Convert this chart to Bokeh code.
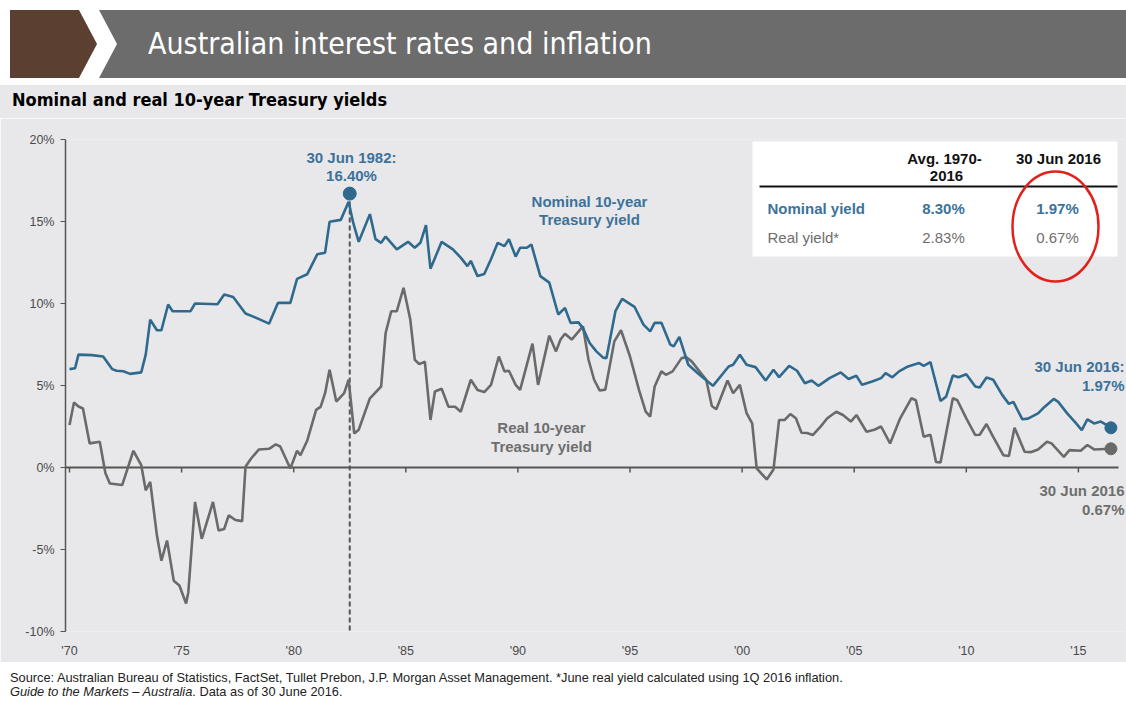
from bokeh.plotting import figure
from bokeh.models import Div, FixedTicker, PrintfTickFormatter
from bokeh.layouts import column
from bokeh.core.properties import value
from bokeh.embed import file_html
from bokeh.resources import INLINE

# ---------------- data ----------------
nominal_years = [1970.0, 1970.25, 1970.4, 1971.0, 1971.5, 1971.9, 1972.1, 1972.4, 1972.7, 1973.2,
                 1973.4, 1973.6, 1973.9, 1974.1, 1974.4, 1974.6, 1975.4, 1975.6, 1976.6, 1976.9,
                 1977.3, 1977.85, 1978.2, 1978.9, 1979.3, 1979.85, 1980.15, 1980.6, 1981.05, 1981.4,
                 1981.6, 1982.1, 1982.45, 1982.65, 1982.9, 1983.4, 1983.65, 1983.9, 1984.1, 1984.6,
                 1985.1, 1985.4, 1985.65, 1985.9, 1986.1, 1986.6, 1987.1, 1987.45, 1987.75, 1987.9,
                 1988.2, 1988.5, 1988.8, 1989.1, 1989.4, 1989.6, 1989.9, 1990.1, 1990.4, 1990.6,
                 1991.0, 1991.4, 1991.8, 1992.1, 1992.35, 1992.7, 1992.9, 1993.2, 1993.5, 1993.8,
                 1993.95, 1994.35, 1994.65, 1995.2, 1995.6, 1995.9, 1996.1, 1996.4, 1996.8, 1996.95,
                 1997.2, 1997.6, 1998.1, 1998.7, 1999.4, 1999.6, 1999.9, 2000.2, 2000.6, 2001.05,
                 2001.4, 2001.65, 2002.1, 2002.45, 2002.8, 2003.1, 2003.4, 2003.9, 2004.4, 2004.75,
                 2005.1, 2005.35, 2005.8, 2006.2, 2006.4, 2006.7, 2007.0, 2007.4, 2007.9, 2008.1,
                 2008.4, 2008.85, 2009.1, 2009.4, 2009.65, 2010.0, 2010.4, 2010.6, 2010.9, 2011.2,
                 2011.6, 2011.9, 2012.1, 2012.5, 2012.75, 2013.2, 2013.5, 2013.9, 2014.1, 2014.5,
                 2014.9, 2015.15, 2015.4, 2015.7, 2016.0, 2016.45]
nominal_values = [6.0, 6.05, 6.88, 6.85, 6.77, 6.0, 5.9, 5.87, 5.71, 5.8,
                  6.88, 9.02, 8.37, 8.37, 9.94, 9.53, 9.53, 10.0, 9.95, 10.55,
                  10.4, 9.39, 9.2, 8.77, 10.04, 10.04, 11.5, 11.78, 13.0, 13.1,
                  14.98, 15.1, 16.2, 14.94, 13.76, 15.45, 13.92, 13.7, 14.08, 13.3,
                  13.76, 13.4, 13.7, 14.78, 12.12, 13.76, 13.3, 12.8, 12.28, 12.6,
                  11.67, 11.8, 12.7, 13.7, 13.5, 13.92, 12.86, 13.4, 13.4, 13.6,
                  11.67, 11.27, 9.33, 9.73, 8.82, 8.85, 8.5, 7.59, 7.08, 6.7,
                  6.67, 9.53, 10.28, 9.8, 8.71, 8.3, 8.82, 8.82, 7.49, 7.39,
                  7.96, 6.26, 5.65, 4.98, 6.16, 6.26, 6.88, 6.26, 6.12, 5.3,
                  5.96, 5.51, 6.2, 5.9, 5.14, 5.3, 4.98, 5.45, 5.8, 5.4,
                  5.59, 5.04, 5.24, 5.45, 5.75, 5.5, 5.86, 6.16, 6.37, 6.2,
                  6.43, 4.06, 4.32, 5.61, 5.5, 5.69, 4.94, 4.88, 5.49, 5.35,
                  4.43, 3.88, 4.0, 2.94, 2.98, 3.3, 3.71, 4.18, 4.0, 3.3,
                  2.69, 2.28, 2.94, 2.69, 2.8, 2.45]

real_years = [1970.0, 1970.2, 1970.4, 1970.6, 1970.9, 1971.35, 1971.6, 1971.8, 1972.35, 1972.85,
              1973.2, 1973.4, 1973.6, 1973.9, 1974.1, 1974.35, 1974.65, 1974.9, 1975.2, 1975.3,
              1975.6, 1975.9, 1976.4, 1976.65, 1976.9, 1977.1, 1977.4, 1977.7, 1977.85, 1978.1,
              1978.45, 1978.9, 1979.2, 1979.4, 1979.85, 1980.15, 1980.3, 1980.6, 1981.0, 1981.2,
              1981.4, 1981.6, 1981.9, 1982.25, 1982.45, 1982.7, 1982.9, 1983.4, 1983.9, 1984.1,
              1984.35, 1984.6, 1984.9, 1985.2, 1985.4, 1985.6, 1985.85, 1986.1, 1986.3, 1986.6,
              1986.9, 1987.2, 1987.45, 1987.9, 1988.2, 1988.5, 1988.8, 1989.15, 1989.4, 1989.6,
              1989.9, 1990.1, 1990.65, 1990.9, 1991.4, 1991.7, 1991.9, 1992.1, 1992.4, 1992.9,
              1993.15, 1993.4, 1993.65, 1993.9, 1994.3, 1994.6, 1995.0, 1995.4, 1995.7, 1995.9,
              1996.1, 1996.4, 1996.6, 1996.9, 1997.3, 1997.5, 1997.75, 1998.1, 1998.4, 1998.65,
              1998.85, 1999.35, 1999.6, 1999.9, 2000.2, 2000.45, 2000.65, 2001.1, 2001.4, 2001.65,
              2001.9, 2002.15, 2002.4, 2002.65, 2002.9, 2003.15, 2003.5, 2003.8, 2004.2, 2004.5,
              2004.85, 2005.1, 2005.55, 2005.9, 2006.2, 2006.6, 2007.05, 2007.55, 2007.75, 2008.1,
              2008.4, 2008.65, 2008.85, 2009.4, 2009.6, 2010.0, 2010.4, 2010.6, 2010.9, 2011.2,
              2011.65, 2011.9, 2012.15, 2012.6, 2012.9, 2013.2, 2013.6, 2013.8, 2014.35, 2014.6,
              2015.1, 2015.4, 2015.7, 2016.45]
real_values = [2.59, 3.96, 3.72, 3.6, 1.47, 1.57, -0.33, -0.98, -1.07, 1.02,
               0.14, -1.39, -0.88, -4.15, -5.68, -4.45, -6.9, -7.2, -8.29, -7.6,
               -2.1, -4.35, -2.1, -3.84, -3.75, -2.92, -3.2, -3.27, 0.04, 0.55,
               1.1, 1.14, 1.41, 1.28, -0.06, 1.02, 0.75, 1.63, 3.51, 3.7,
               4.53, 5.96, 4.02, 4.53, 5.35, 2.08, 2.3, 4.22, 4.94, 8.2,
               9.53, 9.53, 10.96, 9.02, 6.57, 6.3, 6.45, 2.9, 4.63, 4.8,
               3.71, 3.7, 3.4, 5.35, 4.73, 4.6, 5.04, 6.77, 5.86, 5.9,
               5.04, 4.73, 7.55, 5.04, 8.04, 7.08, 7.8, 8.16, 7.8, 8.61,
               6.57, 5.35, 4.69, 4.75, 7.69, 8.37, 6.77, 4.73, 3.4, 3.1,
               4.94, 5.86, 5.65, 5.86, 6.67, 6.73, 6.47, 5.86, 5.35, 3.75,
               3.55, 5.3, 4.53, 5.04, 3.31, 2.69, -0.06, -0.73, -0.12, 2.9,
               2.9, 3.26, 3.0, 2.12, 2.1, 1.98, 2.49, 3.0, 3.4, 3.2,
               2.8, 3.2, 2.18, 2.3, 2.5, 1.47, 3.0, 4.22, 4.1, 1.87,
               2.0, 0.34, 0.3, 4.22, 4.1, 3.0, 1.98, 2.0, 2.65, 1.87,
               0.75, 0.7, 2.43, 0.96, 0.94, 1.1, 1.57, 1.47, 0.65, 1.06,
               1.02, 1.37, 1.1, 1.14]

peak_year, peak_dot_value = 1982.5, 16.7
end_year = 2016.45
end_nominal_dot, end_real_dot = 2.42, 1.14

y_ticks = [-10, -5, 0, 5, 10, 15, 20]
x_ticks = [1970, 1975, 1980, 1985, 1990, 1995, 2000, 2005, 2010, 2015]
x_tick_labels = ["'70", "'75", "'80", "'85", "'90", "'95", "'00", "'05", "'10", "'15"]

table_cols = ["Avg. 1970-", "2016", "30 Jun 2016"]
table_rows = ["Nominal yield", "Real yield*"]
table_avg = ["8.30%", "2.83%"]
table_latest = ["1.97%", "0.67%"]

# ---------------- styling ----------------
BLUE = "#2f6a8e"
BLUE_TXT = "#3c729a"
GRAY = "#6a6a6a"
GRAY_TXT = "#6e6e6e"
PANEL = "#e8e8ea"
AXIS = "#555555"
FONT = "Liberation Sans"
NARROW = "'Liberation Sans Narrow','DejaVu Sans Condensed','Arial Narrow',sans-serif"
ANN = "15px"

W = 1126
TOP_H = 118
FOOT_H = 40
FIG_H = 544

# pixel -> data helpers for annotation placement (page pixel coords)
PX_1970 = 69.0
PX_PER_YEAR = 22.42
PX_ZERO = 467.0
PX_PER_PCT = 16.4


def dx(px):
    return 1970 + (px - PX_1970) / PX_PER_YEAR


def dy(py):
    return (PX_ZERO - py) / PX_PER_PCT


header_html = f"""
<div style="position:relative;width:{W}px;height:{TOP_H}px;background:#ffffff;margin:0;padding:0;overflow:hidden;">
  <div style="position:absolute;left:10px;top:10px;width:87px;height:68px;background:#5b3f31;
       clip-path:polygon(0 0,69px 0,87px 34px,69px 68px,0 68px);"></div>
  <div style="position:absolute;left:99px;top:10px;width:{W-99}px;height:68px;background:#6c6c6c;
       clip-path:polygon(0 0,100% 0,100% 100%,0 100%,18px 34px);"></div>
  <div style="position:absolute;left:148px;top:10px;height:68px;line-height:68px;color:#ffffff;
       font-family:{NARROW};font-size:30px;white-space:nowrap;">Australian interest rates and inflation</div>
  <div style="position:absolute;left:0;top:85px;width:{W}px;height:{TOP_H-85}px;background:{PANEL};"></div>
  <div style="position:absolute;left:12px;top:89px;line-height:22px;color:#000000;font-weight:bold;
       font-family:{NARROW};font-size:18px;white-space:nowrap;">Nominal and real 10-year Treasury yields</div>
</div>
"""

footer_html = f"""
<div style="position:relative;width:{W}px;height:{FOOT_H}px;background:#ffffff;margin:0;padding:0;overflow:hidden;
     font-family:{FONT},sans-serif;font-size:12.8px;color:#222222;">
  <div style="position:absolute;left:10px;top:9px;line-height:13px;white-space:nowrap;">Source: Australian Bureau of Statistics, FactSet, Tullet Prebon, J.P. Morgan Asset Management. *June real yield calculated using 1Q 2016 inflation.</div>
  <div style="position:absolute;left:10px;top:23px;line-height:13px;white-space:nowrap;"><i>Guide to the Markets \u2013 Australia</i>. Data as of 30 June 2016.</div>
</div>
"""

top_div = Div(text=header_html, width=W, height=TOP_H, styles={"margin": "0", "padding": "0"})
foot_div = Div(text=footer_html, width=W, height=FOOT_H, styles={"margin": "0", "padding": "0"})

x_start = dx(65)
x_end = dx(W)

p = figure(width=W, height=FIG_H, output_backend="svg", toolbar_location=None,
           x_range=(x_start, x_end), y_range=(-10, 20),
           min_border_left=65, min_border_right=0, min_border_top=21, min_border_bottom=31,
           background_fill_color=PANEL, border_fill_color=PANEL, outline_line_color=None)
p.xgrid.visible = False
p.ygrid.visible = False

# y axis
p.yaxis.ticker = FixedTicker(ticks=y_ticks)
p.yaxis.formatter = PrintfTickFormatter(format="%d%%")
p.yaxis.axis_line_color = AXIS
p.yaxis.axis_line_width = 1.5
p.yaxis.major_tick_line_color = AXIS
p.yaxis.major_tick_in = 0
p.yaxis.major_tick_out = 5
p.yaxis.minor_tick_line_color = None
p.yaxis.major_label_text_font = FONT
p.yaxis.major_label_text_font_size = "12.5px"
p.yaxis.major_label_text_color = "#4a4a4a"
p.yaxis.major_label_standoff = 6

# x axis: labels only at bottom
p.xaxis.ticker = FixedTicker(ticks=x_ticks)
p.xaxis.major_label_overrides = {t: l for t, l in zip(x_ticks, x_tick_labels)}
p.xaxis.axis_line_color = None
p.xaxis.major_tick_line_color = None
p.xaxis.minor_tick_line_color = None
p.xaxis.major_label_text_font = FONT
p.xaxis.major_label_text_font_size = "12.5px"
p.xaxis.major_label_text_color = "#4a4a4a"
p.xaxis.major_label_standoff = 6

# zero line with small ticks
p.segment(x0=[x_start], y0=[0], x1=[dx(1118)], y1=[0], line_color=AXIS, line_width=2)
p.segment(x0=x_ticks, y0=[0] * len(x_ticks), x1=x_ticks, y1=[-0.3] * len(x_ticks),
          line_color=AXIS, line_width=1.5)

# dashed marker line at the 1982 peak
p.segment(x0=[peak_year], y0=[peak_dot_value], x1=[peak_year], y1=[-10],
          line_color="#555555", line_width=2, line_dash="5 3")

# series
p.line(real_years, real_values, line_color=GRAY, line_width=2.6)
p.line(nominal_years, nominal_values, line_color=BLUE, line_width=2.6)

# dots
p.scatter([peak_year], [peak_dot_value], size=13, fill_color=BLUE, line_color=BLUE)
p.scatter([end_year], [end_nominal_dot], size=12, fill_color=BLUE, line_color=BLUE)
p.scatter([end_year], [end_real_dot], size=12, fill_color=GRAY, line_color=GRAY)


def txt(x, y, t, color, align="center", size=ANN, bold=True):
    p.text(x=[x], y=[y], text=[t], text_color=color, text_align=align, text_baseline="middle",
           text_font=value(FONT), text_font_size=size, text_font_style="bold" if bold else "normal")


# annotations
txt(dx(351), dy(157), "30 Jun 1982:", BLUE_TXT)
txt(dx(351), dy(175), "16.40%", BLUE_TXT)
txt(dx(589), dy(201), "Nominal 10-year", BLUE_TXT)
txt(dx(589), dy(219), "Treasury yield", BLUE_TXT)
txt(dx(541), dy(427), "Real 10-year", GRAY_TXT)
txt(dx(541), dy(446), "Treasury yield", GRAY_TXT)
txt(dx(1124), dy(366), "30 Jun 2016:", BLUE_TXT, align="right")
txt(dx(1124), dy(385), "1.97%", BLUE_TXT, align="right")
txt(dx(1124), dy(490), "30 Jun 2016", GRAY_TXT, align="right")
txt(dx(1124), dy(509), "0.67%", GRAY_TXT, align="right")

# table
p.quad(left=[dx(752)], right=[dx(1117)], top=[dy(141)], bottom=[dy(256)],
       fill_color="#ffffff", line_color=None)
p.segment(x0=[dx(759)], y0=[dy(186)], x1=[dx(1117)], y1=[dy(186)], line_color="#111111", line_width=2)
txt(dx(944), dy(158), table_cols[0], "#111111")
txt(dx(946), dy(175), table_cols[1], "#111111")
txt(dx(1058), dy(158), table_cols[2], "#111111")
txt(dx(767), dy(208), table_rows[0], BLUE_TXT, align="left")
txt(dx(767), dy(237), table_rows[1], GRAY_TXT, align="left", bold=False)
txt(dx(943), dy(208), table_avg[0], BLUE_TXT)
txt(dx(943), dy(237), table_avg[1], GRAY_TXT, bold=False)
txt(dx(1057), dy(208), table_latest[0], BLUE_TXT)
txt(dx(1057), dy(237), table_latest[1], GRAY_TXT, bold=False)

# red highlight ellipse
p.ellipse(x=[dx(1055)], y=[dy(226)], width=86, height=110, width_units="screen", height_units="screen",
          angle=0.0, fill_color=None, line_color="#e3201c", line_width=2.5)

layout = column(top_div, p, foot_div, spacing=0)
open("out.html", "w").write(file_html(layout, INLINE))
